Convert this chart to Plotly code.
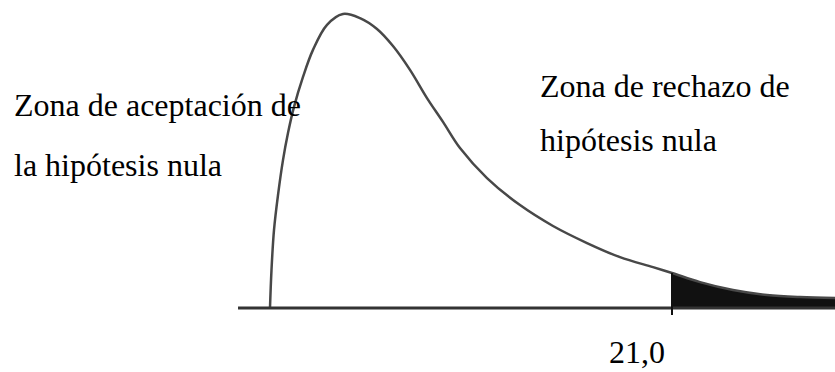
import plotly.graph_objects as go

# curve (chi-square like density, arbitrary units)
curve_x = [0.0, 0.078, 0.209, 0.418, 0.679, 0.94, 1.254, 1.724, 2.246, 2.978,
           3.814, 4.701, 5.59, 6.425, 7.313, 8.201, 9.037, 9.925, 11.336,
           13.06, 14.784, 16.56, 18.284, 20.008, 21.0, 22.463, 24.187,
           25.963, 27.687, 29.515]
curve_y = [0.0, 0.0129, 0.0265, 0.0384, 0.0503, 0.0595, 0.0684, 0.0786,
           0.0878, 0.0963, 0.1, 0.0986, 0.0949, 0.0891, 0.081, 0.0714,
           0.0633, 0.0544, 0.0442, 0.035, 0.0279, 0.0221, 0.0173, 0.0139,
           0.0119, 0.0088, 0.0061, 0.0044, 0.0037, 0.0034]

critical_value = 21.0
critical_label = "21,0"
accept_lines = ["Zona de aceptación de", "la hipótesis nula"]
reject_lines = ["Zona de rechazo de", "hipótesis nula"]

tail_x = [x for x in curve_x if x >= critical_value]
tail_y = [y for x, y in zip(curve_x, curve_y) if x >= critical_value]

fig = go.Figure()

# shaded rejection tail
fig.add_trace(go.Scatter(
    x=tail_x, y=tail_y, mode="lines", fill="tozeroy",
    fillcolor="#111111", line=dict(color="#111111", width=1, shape="spline"),
    hoverinfo="skip",
))

# density curve
fig.add_trace(go.Scatter(
    x=curve_x, y=curve_y, mode="lines",
    line=dict(color="#484848", width=2.5, shape="spline", smoothing=1.0),
    hoverinfo="skip",
))

# base axis line
fig.add_shape(type="line", x0=-1.67, x1=29.6, y0=0, y1=0,
              line=dict(color="#333333", width=3))

# critical value marker
fig.add_shape(type="line", x0=critical_value, x1=critical_value,
              y0=-0.0024, y1=curve_y[curve_x.index(critical_value)],
              line=dict(color="#111111", width=2))

font = dict(family="Liberation Serif, Times New Roman, DejaVu Serif, serif",
            size=32, color="black")

for text, y in zip(accept_lines, [0.0690, 0.0488]):
    fig.add_annotation(x=-13.48, y=y, text=text, showarrow=False,
                       xanchor="left", yanchor="middle", font=font)

for text, y in zip(reject_lines, [0.0755, 0.0572]):
    fig.add_annotation(x=14.0, y=y, text=text, showarrow=False,
                       xanchor="left", yanchor="middle", font=font)

fig.add_annotation(x=19.15, y=-0.0150, text=critical_label, showarrow=False,
                   xanchor="center", yanchor="middle", font=font)

fig.update_layout(
    width=835, height=372,
    margin=dict(l=0, r=0, t=0, b=0),
    paper_bgcolor="white", plot_bgcolor="white",
    showlegend=False,
    xaxis=dict(range=[-14.104, 29.515], visible=False, fixedrange=True),
    yaxis=dict(range=[-0.02177, 0.10476], visible=False, fixedrange=True),
)

fig.write_html("out.html", config={"displayModeBar": False},
               post_script="document.body.style.margin = '0';")
